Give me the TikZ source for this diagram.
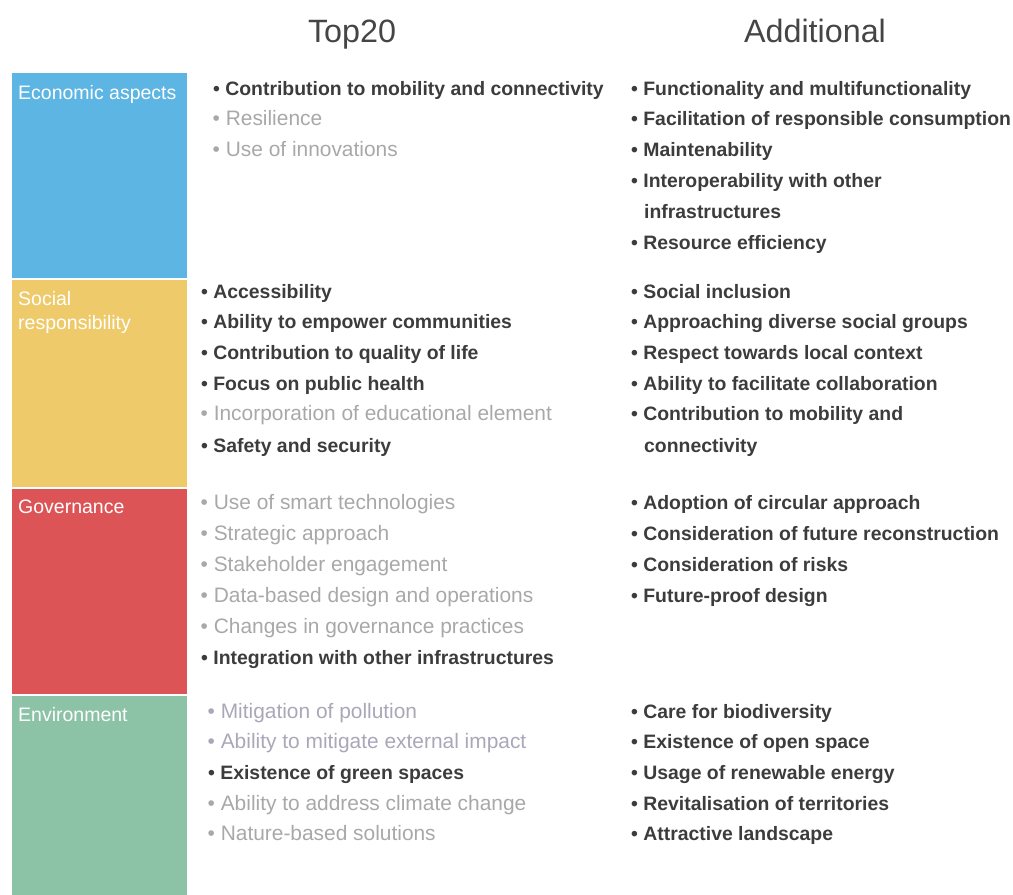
\documentclass[tikz,border=0pt]{standalone}
\usepackage{fontspec}
\setmainfont{Liberation Sans}
\definecolor{cblue}{HTML}{5DB5E4}
\definecolor{cyellow}{HTML}{EECA6A}
\definecolor{cred}{HTML}{DC5456}
\definecolor{cgreen}{HTML}{8CC2A6}
\definecolor{tdark}{HTML}{3C3C3C}
\definecolor{tgray}{HTML}{A8A8A8}
\definecolor{tenv}{HTML}{A9A7B8}
\definecolor{ttitle}{HTML}{454545}
\begin{document}
\begin{tikzpicture}[x=1pt,y=-1pt,
  blabel/.style={anchor=base west,inner sep=0pt,text=white,font=\fontsize{19.5}{19.5}\selectfont},
  dk/.style={anchor=base west,inner sep=0pt,text=tdark,font=\fontsize{19.4}{19.4}\bfseries\selectfont},
  lt/.style={anchor=base west,inner sep=0pt,text=tgray,font=\fontsize{20.9}{20.9}\selectfont},
  le/.style={anchor=base west,inner sep=0pt,text=tenv,font=\fontsize{20.9}{20.9}\selectfont},
  title/.style={anchor=base,inner sep=0pt,text=ttitle,font=\fontsize{32.3}{32.3}\selectfont}]
\useasboundingbox (0,0) rectangle (1013,895);
% titles
\node[title] (t1) at (352,42) {Top20};
\node[title] (t2) at (815,42) {Additional};
% blocks
\fill[cblue]   (12,73)  rectangle (187,278);
\fill[cyellow] (12,280) rectangle (187,487);
\fill[cred]    (12,489) rectangle (187,694);
\fill[cgreen]  (12,696) rectangle (187,895);
\node[blabel] (b1) at (18,99) {Economic aspects};
\node[blabel] (b2a) at (18,305) {Social};
\node[blabel] (b2b) at (18,329) {responsibility};
\node[blabel] (b3) at (18,513) {Governance};
\node[blabel] (b4) at (18,721) {Environment};
% economic left
\node[dk] (e1) at (213,95) {\textbullet\ Contribution to mobility and connectivity};
\node[lt] (e2) at (212.5,125) {\textbullet\ Resilience};
\node[lt] (e3) at (212.5,156) {\textbullet\ Use of innovations};
% economic right
\node[dk] (ea1) at (631,95) {\textbullet\ Functionality and multifunctionality};
\node[dk] (ea2) at (631,125) {\textbullet\ Facilitation of responsible consumption};
\node[dk] (ea3) at (631,156) {\textbullet\ Maintenability};
\node[dk] (ea4) at (631,187) {\textbullet\ Interoperability with other};
\node[dk] (ea4b) at (644,218) {infrastructures};
\node[dk] (ea5) at (631,249) {\textbullet\ Resource efficiency};
% social left
\node[dk] (s1) at (201,298) {\textbullet\ Accessibility};
\node[dk] (s2) at (201,328) {\textbullet\ Ability to empower communities};
\node[dk] (s3) at (201,359) {\textbullet\ Contribution to quality of life};
\node[dk] (s4) at (201,390) {\textbullet\ Focus on public health};
\node[lt] (s5) at (200.5,420) {\textbullet\ Incorporation of educational element};
\node[dk] (s6) at (201,452) {\textbullet\ Safety and security};
% social right
\node[dk] (sa1) at (631,298) {\textbullet\ Social inclusion};
\node[dk] (sa2) at (631,328) {\textbullet\ Approaching diverse social groups};
\node[dk] (sa3) at (631,359) {\textbullet\ Respect towards local context};
\node[dk] (sa4) at (631,390) {\textbullet\ Ability to facilitate collaboration};
\node[dk] (sa5) at (631,420) {\textbullet\ Contribution to mobility and};
\node[dk] (sa5b) at (644,452) {connectivity};
% governance left
\node[lt] (g1) at (200.5,509) {\textbullet\ Use of smart technologies};
\node[lt] (g2) at (200.5,540) {\textbullet\ Strategic approach};
\node[lt] (g3) at (200.5,571) {\textbullet\ Stakeholder engagement};
\node[lt] (g4) at (200.5,602) {\textbullet\ Data-based design and operations};
\node[lt] (g5) at (200.5,633) {\textbullet\ Changes in governance practices};
\node[dk] (g6) at (201,664) {\textbullet\ Integration with other infrastructures};
% governance right
\node[dk] (ga1) at (631,509) {\textbullet\ Adoption of circular approach};
\node[dk] (ga2) at (631,540) {\textbullet\ Consideration of future reconstruction};
\node[dk] (ga3) at (631,571) {\textbullet\ Consideration of risks};
\node[dk] (ga4) at (631,602) {\textbullet\ Future-proof design};
% environment left
\node[le] (n1) at (207.5,718) {\textbullet\ Mitigation of pollution};
\node[le] (n2) at (207.5,748) {\textbullet\ Ability to mitigate external impact};
\node[dk] (n3) at (208,779) {\textbullet\ Existence of green spaces};
\node[lt] (n4) at (207.5,810) {\textbullet\ Ability to address climate change};
\node[lt] (n5) at (207.5,840) {\textbullet\ Nature-based solutions};
% environment right
\node[dk] (na1) at (631,718) {\textbullet\ Care for biodiversity};
\node[dk] (na2) at (631,748) {\textbullet\ Existence of open space};
\node[dk] (na3) at (631,779) {\textbullet\ Usage of renewable energy};
\node[dk] (na4) at (631,810) {\textbullet\ Revitalisation of territories};
\node[dk] (na5) at (631,840) {\textbullet\ Attractive landscape};
\end{tikzpicture}
\end{document}
